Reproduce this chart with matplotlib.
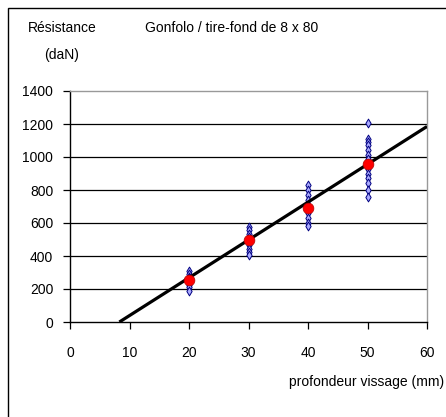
import matplotlib
matplotlib.use("Agg")
import matplotlib.pyplot as plt
from matplotlib.patches import Rectangle

plt.rcParams['font.family'] = ['Liberation Sans Narrow', 'Liberation Sans', 'DejaVu Sans']

# Measured resistance per screwing depth (daN)
depths = [20, 30, 40, 50]
measures = {
    20: [310, 290, 275, 265, 250, 240, 225, 210, 190],
    30: [575, 555, 535, 515, 490, 465, 445, 425, 405],
    40: [830, 800, 770, 740, 710, 690, 660, 630, 600, 580],
    50: [1205, 1110, 1090, 1070, 1040, 1010, 990, 960, 930, 900, 870, 840, 800, 760],
}
means = [255, 495, 690, 960]

# trend line ends
trend_x = [8.3, 60]
trend_y = [0, 1185]

x_ticks = [0, 10, 20, 30, 40, 50, 60]
y_ticks = [0, 200, 400, 600, 800, 1000, 1200, 1400]

fig = plt.figure(figsize=(4.46, 4.17), dpi=100)
ax = fig.add_axes([70 / 446, 1 - 322 / 417, 357 / 446, 231 / 417])

# outer frame
fig.patches.append(Rectangle((8 / 446, -0.1), 1.2, 1 - 8 / 417 + 0.1,
                             transform=fig.transFigure, fill=False,
                             edgecolor='black', linewidth=1))

for y in y_ticks[1:-1]:
    ax.axhline(y, color='black', linewidth=0.9, zorder=1)

ax.plot(trend_x, trend_y, color='black', linewidth=2.3, zorder=3, solid_capstyle='butt')

for d in depths:
    vals = measures[d]
    ax.scatter([d] * len(vals), vals, marker='d', s=20, facecolor='#aaaaff',
               edgecolor='#000080', linewidth=0.7, zorder=2)
ax.scatter(depths, means, marker='o', s=60, color='red', edgecolor='#b00000',
           linewidth=0.5, zorder=4)

ax.set_xlim(0, 60)
ax.set_ylim(0, 1400)
ax.set_xticks(x_ticks)
ax.set_yticks(y_ticks)
ax.tick_params(axis='both', direction='out', length=5, width=0.9, labelsize=10)
ax.tick_params(axis='x', pad=12)
ax.tick_params(axis='y', pad=7)
for s in ['left', 'bottom']:
    ax.spines[s].set_color('black')
    ax.spines[s].set_linewidth(1)
for s in ['top', 'right']:
    ax.spines[s].set_color('#999999')
    ax.spines[s].set_linewidth(1)

fig.text(62 / 446, 1 - 28 / 417, "Résistance", ha='center', va='center', fontsize=10)
fig.text(62 / 446, 1 - 55 / 417, "(daN)", ha='center', va='center', fontsize=10)
fig.text(232 / 446, 1 - 28 / 417, "Gonfolo / tire-fond de 8 x 80", ha='center', va='center', fontsize=10)
fig.text(444 / 446, 1 - 382 / 417, "profondeur vissage (mm)", ha='right', va='center', fontsize=10)

fig.savefig("out.png", dpi=100)
